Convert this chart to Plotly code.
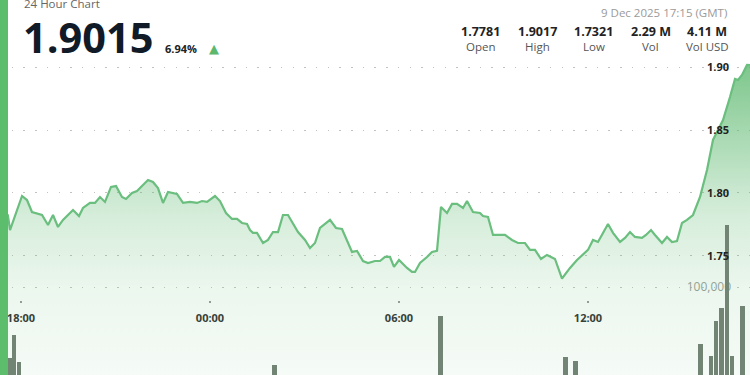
import pandas as pd
import plotly.graph_objects as go

# ---- data ----
base_time = pd.Timestamp("2025-12-08 18:00")
price_hours_after_1800 = [
    -0.603, -0.413, -0.349, 0.032, 0.190, 0.349, 0.667, 0.857, 1.016, 1.175, 1.333, 1.651, 1.841, 1.968,
    2.190, 2.349, 2.508, 2.667, 2.857, 3.016, 3.206, 3.333, 3.524, 3.683, 3.841, 4.032, 4.190, 4.349,
    4.508, 4.667, 4.952, 5.143, 5.365, 5.587, 5.746, 5.905, 6.159, 6.317, 6.508, 6.698, 6.857, 7.016,
    7.175, 7.270,
    7.365, 7.492, 7.683, 7.841, 8.000, 8.159, 8.317, 8.476, 8.794, 9.016, 9.175, 9.333, 9.492, 9.810,
    10.000, 10.190, 10.508, 10.667, 10.857, 11.016, 11.238, 11.397, 11.556, 11.714, 11.841, 12.000,
    12.254, 12.413, 12.508, 12.667, 12.889, 13.048, 13.206, 13.333, 13.524, 13.683, 13.841, 14.032,
    14.159, 14.349, 14.571, 14.667, 14.825, 14.984, 15.206,
    15.365, 15.587, 15.778, 16.000, 16.159, 16.317, 16.508, 16.698, 16.952, 17.175, 17.429, 17.651,
    17.841, 18.000, 18.159, 18.317, 18.476, 18.635, 18.794, 19.016, 19.175, 19.333, 19.492, 19.714,
    19.841, 20.000, 20.127, 20.349, 20.508, 20.667, 20.825, 20.984, 21.143, 21.333, 21.556, 21.778,
    21.968, 22.190, 22.286, 22.508, 22.667, 22.762, 22.889, 23.048, 23.143,
]
prices = [
    1.7781, 1.7817, 1.7706, 1.7976, 1.7944, 1.7849, 1.7825, 1.7746, 1.7825, 1.7730, 1.7786, 1.7865, 1.7817, 1.7881,
    1.7921, 1.7921, 1.7968, 1.7929, 1.8048, 1.8055, 1.7968, 1.7952, 1.8000, 1.8016, 1.8055, 1.8103, 1.8087, 1.8039,
    1.7921, 1.8008, 1.7992, 1.7921, 1.7929, 1.7921, 1.7936, 1.7929, 1.7976, 1.7936, 1.7841, 1.7794, 1.7794, 1.7762,
    1.7754, 1.7706,
    1.7683, 1.7683, 1.7603, 1.7627, 1.7690, 1.7690, 1.7825, 1.7825, 1.7690, 1.7627, 1.7563, 1.7603, 1.7722, 1.7786,
    1.7722, 1.7714, 1.7532, 1.7540, 1.7460, 1.7444, 1.7460, 1.7460, 1.7492, 1.7492, 1.7413, 1.7468,
    1.7405, 1.7373, 1.7373, 1.7444, 1.7492, 1.7532, 1.7540, 1.7889, 1.7841, 1.7913, 1.7913, 1.7881,
    1.7936, 1.7849, 1.7841, 1.7817, 1.7810, 1.7667, 1.7667,
    1.7667, 1.7627, 1.7603, 1.7603, 1.7548, 1.7548, 1.7476, 1.7508, 1.7476, 1.7321, 1.7405, 1.7468,
    1.7516, 1.7548, 1.7627, 1.7611, 1.7683, 1.7754, 1.7683, 1.7611, 1.7643, 1.7690, 1.7651, 1.7643,
    1.7667, 1.7706, 1.7667, 1.7603, 1.7651, 1.7611, 1.7619, 1.7762, 1.7786, 1.7825, 1.7968, 1.8183,
    1.8421, 1.8540, 1.8579, 1.8762, 1.8905, 1.8897, 1.8937, 1.9016, 1.9015,
]
volume_hours_after_1800 = [-0.375, -0.219, -0.063, 8.048, 13.317, 17.286, 17.603,
                           21.562, 21.905, 22.063, 22.238, 22.413, 22.571, 22.905]
volumes = [19300, 45500, 14800, 11400, 67000, 20500, 15900,
           35200, 21600, 61400, 76100, 170500, 21600, 78400]

price_ticks = [1.75, 1.80, 1.85, 1.90]
volume_ticks = [100000]
volume_tick_labels = ["100,000"]

last_price = "1.9015"
change_pct = "6.94%"
timestamp_label = "9 Dec 2025 17:15 (GMT)"
stat_values = ["1.7781", "1.9017", "1.7321", "2.29 M", "4.11 M"]
stat_names = ["Open", "High", "Low", "Vol", "Vol USD"]

price_times = [base_time + pd.Timedelta(hours=h) for h in price_hours_after_1800]
volume_times = [base_time + pd.Timedelta(hours=h) for h in volume_hours_after_1800]

W, H = 750, 375
Y_LO, Y_HI = 1.6555, 1.9532
X_LO = pd.Timestamp("2025-12-08 17:20:00")
X_HI = pd.Timestamp("2025-12-09 17:08:34")

FONT = "Open Sans"
G = "92,184,110"

fig = go.Figure()

fig.add_trace(go.Scatter(
    x=price_times, y=prices, mode="lines",
    line=dict(color="rgb(106,190,126)", width=2.2),
    fill="tozeroy",
    fillgradient=dict(
        type="vertical", start=Y_LO, stop=Y_HI,
        colorscale=[
            [0.0, f"rgba({G},0.06)"],
            [0.235, f"rgba({G},0.12)"],
            [0.41, f"rgba({G},0.24)"],
            [0.50, f"rgba({G},0.34)"],
            [0.65, f"rgba({G},0.55)"],
            [0.82, f"rgba({G},0.78)"],
            [1.0, f"rgba({G},0.88)"],
        ],
    ),
    hoverinfo="skip", showlegend=False,
))

fig.add_trace(go.Bar(
    x=volume_times, y=volumes, yaxis="y2",
    width=540000, marker=dict(color="#728575", line=dict(width=0)),
    hoverinfo="skip", showlegend=False,
))

# left green strip
fig.add_shape(type="rect", xref="paper", yref="paper", x0=0, x1=8 / W, y0=0, y1=1,
              fillcolor="#5cbd6c", line=dict(width=0), layer="above")


def px(x):
    return x / W


def py(y):
    return 1 - y / H


ann = []
ann.append(dict(text="24 Hour Chart", x=px(22), y=py(3), xanchor="left", yanchor="middle",
                font=dict(family=FONT, size=11.5, color="#666666")))
ann.append(dict(text=f"<b>{last_price}</b>", x=px(21), y=py(37), xanchor="left", yanchor="middle",
                font=dict(family=FONT, size=41.5, color="#111a27")))
ann.append(dict(text=f"<b>{change_pct}</b>", x=px(163), y=py(48), xanchor="left", yanchor="middle",
                font=dict(family=FONT, size=11, color="#222222")))
ann.append(dict(text="▲", x=px(213.5), y=py(48), xanchor="center", yanchor="middle",
                font=dict(family="DejaVu Sans", size=13, color="#5cb86d")))
ann.append(dict(text=timestamp_label, x=px(729), y=py(13), xanchor="right", yanchor="middle",
                font=dict(family=FONT, size=11.5, color="#9a9a9a")))
stat_x = [480.5, 537, 593.5, 650.5, 707]
for sx, v, n in zip(stat_x, stat_values, stat_names):
    ann.append(dict(text=f"<b>{v}</b>", x=px(sx), y=py(31.5), xanchor="center", yanchor="middle",
                    font=dict(family=FONT, size=12.5, color="#222222")))
    ann.append(dict(text=n, x=px(sx), y=py(46.5), xanchor="center", yanchor="middle",
                    font=dict(family=FONT, size=11.5, color="#555555")))
for a in ann:
    a.update(xref="paper", yref="paper", showarrow=False)

grid_common = dict(gridcolor="#c2c2c2", gridwidth=1, griddash="1.5px,10.2px")

fig.update_layout(
    width=W, height=H,
    margin=dict(l=0, r=0, t=0, b=0),
    paper_bgcolor="white", plot_bgcolor="white",
    showlegend=False, bargap=0,
    annotations=ann,
    xaxis=dict(
        type="date", range=[X_LO, X_HI],
        anchor="free", position=0.2,
        tickformat="%H:%M", dtick=6 * 3600 * 1000, tick0="2025-12-08 00:00",
        ticks="outside", ticklen=2, tickwidth=1.5, tickcolor="#999999",
        showgrid=False, showline=False, zeroline=False,
        ticklabelstandoff=6,
        tickfont=dict(family=FONT, size=11, color="#333333", weight="bold"),
        layer="below traces",
    ),
    yaxis=dict(
        range=[Y_LO, Y_HI], side="right", ticklabelposition="inside",
        tickvals=price_ticks, ticktext=[f"{v:.2f}" for v in price_ticks],
        tickfont=dict(family=FONT, size=11, color="#222222", weight="bold"),
        ticklabelstandoff=18,
        showline=False, zeroline=False, ticks="",
        layer="above traces",
        **grid_common,
    ),
    yaxis2=dict(
        range=[0, 426136], overlaying="y", side="right", ticklabelposition="inside",
        tickvals=volume_ticks, ticktext=volume_tick_labels,
        tickfont=dict(family=FONT, size=12, color="#9aa09b"),
        ticklabelstandoff=16,
        showline=False, zeroline=False, ticks="",
        layer="below traces",
        **grid_common,
    ),
)

fig.write_html("out.html")
